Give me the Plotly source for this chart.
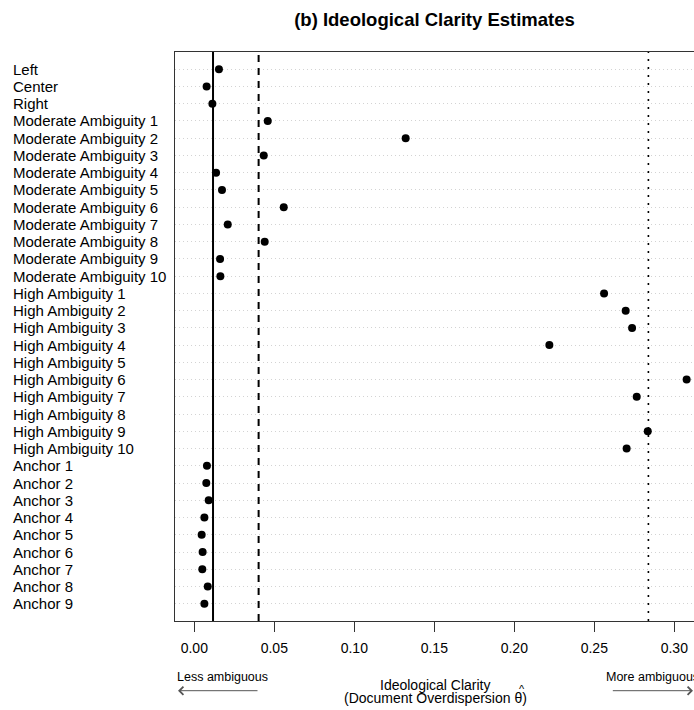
import plotly.graph_objects as go

labels = ["Left", "Center", "Right"] + \
    [f"Moderate Ambiguity {i}" for i in range(1, 11)] + \
    [f"High Ambiguity {i}" for i in range(1, 11)] + \
    [f"Anchor {i}" for i in range(1, 10)]

clarity = [
    0.0154, 0.0077, 0.0113,
    0.0459, 0.1321, 0.0434, 0.0136, 0.0173, 0.0559, 0.0209, 0.0440, 0.0161, 0.0163,
    0.2561, 0.2696, 0.2736, 0.2219, None, 0.3077, 0.2765, None, 0.2834, 0.2702,
    0.0079, 0.0075, 0.0090, 0.0063, 0.0046, 0.0052, 0.0050, 0.0084, 0.0063,
]

x_ticks = [0.00, 0.05, 0.10, 0.15, 0.20, 0.25, 0.30]
x_ticktext = ["0.00", "0.05", "0.10", "0.15", "0.20", "0.25", "0.30"]

# reference lines
ref_solid = 0.0117
ref_dashed = 0.0402
ref_dotted = 0.2838

n = len(labels)
ypos = [n - i for i in range(n)]

FONT = "Liberation Sans, Arial, Helvetica, sans-serif"

fig = go.Figure()
fig.add_trace(go.Scatter(
    x=clarity, y=ypos, mode="markers",
    marker=dict(symbol="circle", size=8, color="black"),
    showlegend=False, hoverinfo="skip", cliponaxis=True,
))

for val, dash, w in [(ref_solid, "solid", 2), (ref_dashed, "7px,6px", 2), (ref_dotted, "2px,6px", 1.6)]:
    fig.add_shape(type="line", xref="x", yref="paper", x0=val, x1=val, y0=0, y1=1,
                  line=dict(color="black", width=w, dash=dash), layer="above")

annotations = []
for lab, y in zip(labels, ypos):
    annotations.append(dict(xref="paper", yref="y", x=-0.3160, y=y, text=lab,
                            showarrow=False, xanchor="left", yanchor="middle",
                            font=dict(size=15, color="black", family=FONT)))

annotations += [
    dict(xref="paper", yref="paper", x=0.0, y=-0.098, text="Less ambiguous",
         showarrow=False, xanchor="left", yanchor="middle",
         font=dict(size=12.5, color="black", family=FONT)),
    dict(xref="paper", yref="paper", x=0.8266, y=-0.098, text="More ambiguous",
         showarrow=False, xanchor="left", yanchor="middle",
         font=dict(size=12.5, color="black", family=FONT)),
    dict(xref="paper", yref="paper", x=0.0058, y=-0.1225, text="", showarrow=True,
         ax=81, ay=0, axref="pixel", ayref="pixel", arrowhead=4, arrowsize=1.6,
         arrowwidth=1, arrowcolor="#555555"),
    dict(xref="paper", yref="paper", x=0.9987, y=-0.1225, text="", showarrow=True,
         ax=-82, ay=0, axref="pixel", ayref="pixel", arrowhead=4, arrowsize=1.6,
         arrowwidth=1, arrowcolor="#555555"),
    dict(xref="paper", yref="paper", x=0.502, y=-0.1125, text="Ideological Clarity",
         showarrow=False, xanchor="center", yanchor="middle",
         font=dict(size=14, color="black", family=FONT)),
    dict(xref="paper", yref="paper", x=0.502, y=-0.1353,
         text="(Document Overdispersion \u03b8)",
         showarrow=False, xanchor="center", yanchor="middle",
         font=dict(size=14, color="black", family=FONT)),
    dict(xref="paper", yref="paper", x=0.668, y=-0.1195, text="^",
         showarrow=False, xanchor="center", yanchor="middle",
         font=dict(size=11, color="black", family=FONT)),
]

fig.update_layout(
    width=694, height=710,
    margin=dict(l=175, r=0, t=52, b=89),
    paper_bgcolor="white", plot_bgcolor="white",
    title=dict(text="<b>(b) Ideological Clarity Estimates</b>", x=0.5, xref="paper",
               y=1 - 20 / 710, yref="container", xanchor="center", yanchor="middle",
               font=dict(size=18.5, color="black", family=FONT)),
    annotations=annotations,
    xaxis=dict(range=[-0.01206, 0.3123], tickvals=x_ticks, ticktext=x_ticktext,
               showgrid=False, zeroline=False, showline=True, mirror=True,
               linecolor="#333333", linewidth=1, ticks="outside", ticklen=10,
               tickcolor="#333333", tickwidth=1, ticklabelstandoff=4,
               tickfont=dict(size=14, color="black", family=FONT)),
    yaxis=dict(range=[0, n + 1], tickvals=ypos, showticklabels=False, ticks="",
               showgrid=True, gridcolor="#d3d3d3", gridwidth=1, griddash="1px,3px",
               zeroline=False, showline=True, mirror=False, linecolor="#333333",
               linewidth=1),
)

fig.write_html("out.html", config={"displayModeBar": False})

# remove the default browser page margin so the figure sits at the window's corner
with open("out.html", "r", encoding="utf-8") as f:
    html = f.read()
html = html.replace("<head>", "<head><style>html,body{margin:0;padding:0;overflow:hidden;}</style>", 1)
with open("out.html", "w", encoding="utf-8") as f:
    f.write(html)
